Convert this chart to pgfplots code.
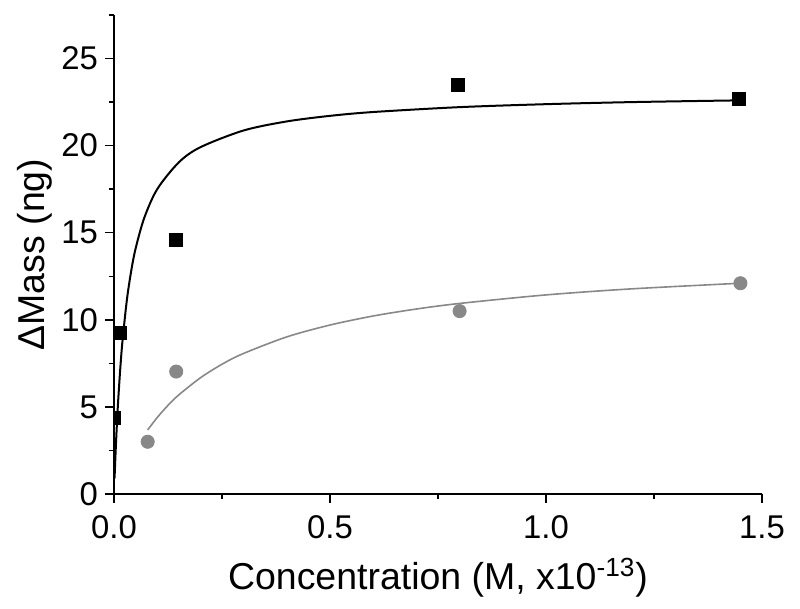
\documentclass[border=0pt]{standalone}
\usepackage{fontspec}
\setmainfont{Liberation Sans}
\usepackage{pgfplots}
\pgfplotsset{compat=1.18}
\definecolor{gr}{HTML}{888888}
\begin{document}
\begin{tikzpicture}
\begin{axis}[
 scale only axis, width=324bp, height=239.5bp,
 xmin=0, xmax=1.5, ymin=0, ymax=27.5,
 axis x line*=bottom, axis y line*=left,
 xtick={0,0.5,1,1.5}, xticklabels={0.0,0.5,1.0,1.5},
 minor xtick={0.25,0.75,1.25},
 ytick={0,5,10,15,20,25}, yticklabels={0,5,10,15,20,25},
 minor ytick={2.5,7.5,12.5,17.5,22.5,27.5},
 tick align=outside, major tick length=4.5bp, minor tick length=2.5bp,
 every tick/.style={black, line width=0.75bp},
 axis line style={line width=0.8bp},
 ticklabel style={font=\fontsize{16.5}{19}\selectfont},
 xticklabel style={yshift=-3bp},
 /pgf/number format/assume math mode=true,
 xlabel={Concentration (M, x10\textsuperscript{-13})},
 ylabel={ΔMass (ng)},
 xlabel style={font=\fontsize{18.8}{22}\selectfont, at={(axis description cs:0.5,-0.175)}, anchor=center},
 ylabel style={font=\fontsize{18.8}{22}\selectfont, at={(axis description cs:-0.122,0.5)}, anchor=center},
 clip marker paths=true,
]
% fitted curves
\addplot[black, line width=1bp, smooth] coordinates {
(0.0013,0.90) (0.003,1.98) (0.005,3.12) (0.0075,4.39) (0.01,5.50) (0.015,7.37) (0.02,8.88) (0.03,11.18) (0.04,12.83) (0.05,14.09) (0.07,15.85) (0.1,17.50) (0.15,19.04) (0.2,19.91) (0.3,20.87) (0.4,21.39) (0.5,21.71) (0.6,21.93) (0.8,22.21) (1.0,22.38) (1.2,22.50) (1.45,22.60)};
\addplot[gr, line width=0.8bp, smooth] coordinates {
(0.078,3.68) (0.1,4.39) (0.125,5.09) (0.15,5.69) (0.2,6.67) (0.25,7.45) (0.3,8.07) (0.4,9.02) (0.5,9.70) (0.6,10.22) (0.7,10.62) (0.8,10.94) (1.0,11.43) (1.2,11.78) (1.45,12.10)};
% data
\addplot[only marks, mark=square*, mark size=3.2bp, black] coordinates {
(0.001,4.35) (0.014,9.25) (0.144,14.6) (0.796,23.5) (1.447,22.7)};
\addplot[only marks, mark=*, mark size=3.3bp, gr, mark options={fill=gr, draw=gr}] coordinates {
(0.078,3.0) (0.144,7.03) (0.8,10.5) (1.45,12.1)};
\end{axis}
\pgfresetboundingbox
\path (current axis.south west) ++(-57bp,-57.5bp) coordinate (bl);
\path (current axis.south west) ++(343bp,247bp) coordinate (tr);
\path (bl) rectangle (tr);
\end{tikzpicture}
\end{document}
